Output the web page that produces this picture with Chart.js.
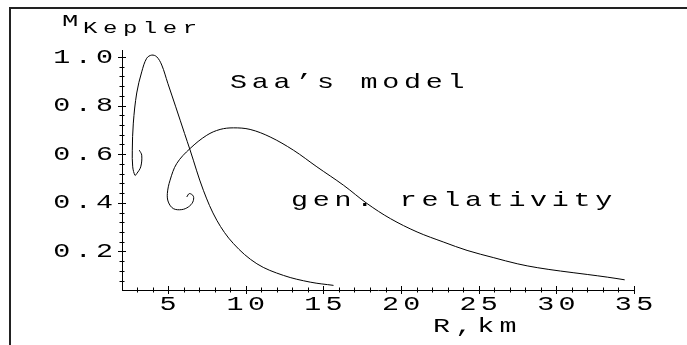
<!DOCTYPE html>
<html><head><meta charset="utf-8">
<script src="https://cdn.jsdelivr.net/npm/chart.js@4"></script>
<style>html,body{margin:0;padding:0;background:#fff;overflow:hidden}#wrap{position:relative;width:687px;height:345px}</style>
</head><body><div id="wrap"><canvas id="c" width="687" height="345"></canvas></div>
<script>
// ---- data ----
const saaR = [3.145, 3.30, 3.236, 2.978, 2.868, 2.72, 2.694, 2.759, 2.978, 3.30, 3.62, 3.945, 4.267, 4.59, 4.98, 5.49, 6.06, 6.41, 7.27, 8.136, 9.206, 10.715, 12.43, 14.15, 15.65];
const saaM = [0.6165, 0.596, 0.548, 0.520, 0.513, 0.548, 0.6165, 0.728, 0.852, 0.939, 0.995, 1.008, 1.001, 0.967, 0.892, 0.795, 0.685, 0.618, 0.4515, 0.328, 0.232, 0.149, 0.101, 0.0734, 0.060];
const grR = [6.20, 6.37, 6.627, 6.588, 6.305, 5.879, 5.337, 5.015, 4.95, 5.125, 5.557, 6.414, 7.49, 8.348, 9.206, 10.28, 11.57, 13.07, 14.58, 16.30, 17.81, 19.31, 21.03, 22.75, 24.25, 25.97, 27.48, 28.77, 30.27, 31.99, 33.28, 34.40];
const grM = [0.424, 0.438, 0.427, 0.403, 0.383, 0.372, 0.376, 0.403, 0.438, 0.493, 0.562, 0.6235, 0.678, 0.702, 0.7085, 0.702, 0.671, 0.6165, 0.548, 0.472, 0.397, 0.335, 0.280, 0.238, 0.204, 0.174, 0.149, 0.133, 0.119, 0.105, 0.094, 0.083];
const seriesNames = ['Saa\u2019s model', 'gen. relativity'];
const xTickValues = [5, 10, 15, 20, 25, 30, 35];
const xTickLabels = ['5', '10', '15', '20', '25', '30', '35'];
const yTickValues = [0.2, 0.4, 0.6, 0.8, 1.0];
const yTickLabels = ['0.2', '0.4', '0.6', '0.8', '1.0'];
const xMinorTicks = [3,4,5,6,7,8,9,10,11,12,13,14,15,16,17,18,19,20,21,22,23,24,25,26,27,28,29,30,31,32,33,34,35];
const yMinorTicks = [0.08,0.12,0.16,0.2,0.24,0.28,0.32,0.36,0.4,0.44,0.48,0.52,0.56,0.6,0.64,0.68,0.72,0.76,0.8,0.84,0.88,0.92,0.96,1.0];
const xTitle = 'R,km';
const yTitleMain = 'M';
const yTitleSub = 'Kepler';

const FONT = '"Liberation Mono", "Courier New", "DejaVu Sans Mono", monospace';
const SX = 1.35, LS = 3.2;

function findLabel(vals, labels, v) {
  const i = vals.findIndex(t => Math.abs(t - v) < 1e-6);
  return i >= 0 ? labels[i] : '';
}

function drawText(ctx, text, x, y, size, sx, ls) {
  ctx.save();
  ctx.font = size + 'px ' + FONT;
  ctx.fillStyle = '#000';
  ctx.textAlign = 'left';
  ctx.textBaseline = 'alphabetic';
  ctx.__sx = sx; ctx.__ls = ls;
  ctx.fillText(text, x, y);
  ctx.__sx = SX; ctx.__ls = LS;
  ctx.restore();
}

const decor = {
  id: 'decor',
  beforeDraw(chart) {
    const ctx = chart.ctx;
    if (!ctx.__patched) {
      const orig = ctx.fillText;
      ctx.fillText = function (t, x, y) {
        const sx = this.__sx || 1, ls = this.__ls || 0;
        this.save();
        this.letterSpacing = ls + 'px';
        let shift = 0;
        if (this.textAlign === 'right' || this.textAlign === 'end') shift = ls * sx;
        else if (this.textAlign === 'center') shift = ls * sx / 2;
        this.translate(x + shift, y);
        this.scale(sx, 1);
        orig.call(this, t, 0, 0);
        this.restore();
      };
      ctx.__patched = true;
    }
    ctx.__sx = SX; ctx.__ls = LS;
    ctx.save();
    ctx.fillStyle = '#222';
    ctx.fillRect(9, 7, 678, 2);
    ctx.fillRect(9, 7, 2, 338);
    ctx.restore();
  },
  afterDraw(chart) {
    const ctx = chart.ctx, xs = chart.scales.x, ys = chart.scales.y, a = chart.chartArea;
    ctx.save();
    ctx.strokeStyle = '#000';
    ctx.lineWidth = 1;
    ctx.beginPath();
    xs.ticks.forEach(t => {
      const px = Math.round(xs.getPixelForValue(t.value)) + 0.5;
      const L = findLabel(xTickValues, xTickLabels, t.value) ? 4 : 2.5;
      ctx.moveTo(px, a.bottom - L); ctx.lineTo(px, a.bottom + L);
    });
    ys.ticks.forEach(t => {
      const py = Math.round(ys.getPixelForValue(t.value)) + 0.5;
      const L = findLabel(yTickValues, yTickLabels, t.value) ? 4 : 2.5;
      ctx.moveTo(a.left - L, py); ctx.lineTo(a.left + L, py);
    });
    ctx.stroke();
    ctx.restore();
    drawText(ctx, seriesNames[0], 230, 88, 21, SX, 3.5);
    drawText(ctx, seriesNames[1], 291, 206, 21, SX, 3.5);
    drawText(ctx, xTitle, 433, 332, 21, SX, 3.8);
    drawText(ctx, yTitleMain, 62, 25.5, 17, 1.6, 2);
    drawText(ctx, yTitleSub, 83, 32.5, 16, 1.5, 3.7);
  }
};

const mk = (xs, ys) => xs.map((x, i) => ({ x: x, y: ys[i] }));

new Chart(document.getElementById('c'), {
  type: 'scatter',
  data: {
    datasets: [
      { label: seriesNames[0], data: mk(saaR, saaM), showLine: true, borderColor: '#000', borderWidth: 1, pointRadius: 0, tension: 0.35, fill: false },
      { label: seriesNames[1], data: mk(grR, grM), showLine: true, borderColor: '#000', borderWidth: 1, pointRadius: 0, tension: 0.35, fill: false }
    ]
  },
  options: {
    responsive: false,
    animation: false,
    devicePixelRatio: 1,
    layout: { padding: { left: 0, top: 50, right: 53, bottom: 0 } },
    plugins: { legend: { display: false }, tooltip: { enabled: false } },
    scales: {
      x: {
        type: 'linear', position: 'bottom', min: 2.03, max: 35,
        grid: { display: false, drawTicks: false },
        border: { display: true, color: '#000', width: 1 },
        afterBuildTicks: s => { s.ticks = xMinorTicks.map(v => ({ value: v })); },
        afterFit: s => { s.height = 55; },
        ticks: {
          autoSkip: false, maxRotation: 0, minRotation: 0, padding: 2, color: '#000',
          font: { family: FONT, size: 21 },
          callback: v => findLabel(xTickValues, xTickLabels, v)
        }
      },
      y: {
        type: 'linear', position: 'left', min: 0.041, max: 1.029,
        grid: { display: false, drawTicks: false },
        border: { display: true, color: '#000', width: 1 },
        afterBuildTicks: s => { s.ticks = yMinorTicks.map(v => ({ value: v })); },
        afterFit: s => { s.width = 122; },
        ticks: {
          autoSkip: false, padding: 9, color: '#000',
          font: { family: FONT, size: 21 },
          callback: v => findLabel(yTickValues, yTickLabels, v)
        }
      }
    }
  },
  plugins: [decor]
});
</script>
</body></html>
